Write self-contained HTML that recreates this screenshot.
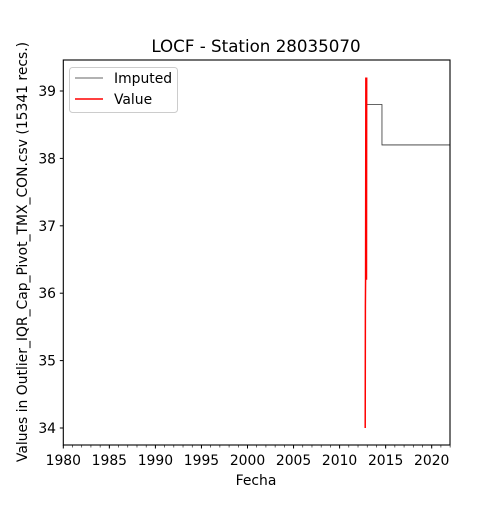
<!DOCTYPE html>
<html><head><meta charset="utf-8"><style>
body{margin:0;background:#fff;font-family:"Liberation Sans","DejaVu Sans",sans-serif}
svg text{font-family:"DejaVu Sans","Liberation Sans",sans-serif}
</style></head><body>
<svg id="c" width="500" height="500" xmlns="http://www.w3.org/2000/svg">
<rect width="500" height="500" fill="#fff"/>
<text x="256" y="52" font-size="16.7" text-anchor="middle">LOCF - Station 28035070</text>
<text x="256" y="485" font-size="13.9" text-anchor="middle">Fecha</text>
<text transform="translate(27,252) rotate(-90)" font-size="13.9" text-anchor="middle">Values in Outlier_IQR_Cap_Pivot_TMX_CON.csv (15341 recs.)</text>
<g id="xt"></g>
<g id="yt"></g>
<g id="series"></g>
<rect x="63.3" y="60" width="386.7" height="385" fill="none" stroke="#000" stroke-width="1.1"/>
<g>
<rect x="69.5" y="67.5" width="108" height="45" rx="3" fill="#fff" stroke="#ccc"/>
<line x1="75" y1="78" x2="103" y2="78" stroke="#333" stroke-width="0.8"/>
<text x="114" y="83" font-size="13.9">Imputed</text>
<line x1="75" y1="99" x2="103" y2="99" stroke="red" stroke-width="1.5"/>
<text x="114" y="104" font-size="13.9">Value</text>
</g>
</svg>
<script>
const xTicks=[1980,1985,1990,1995,2000,2005,2010,2015,2020];
const yTicks=[34,35,36,37,38,39];
const impDates=[2012.9,2014.6,2014.6,2022.0];
const impValues=[38.8,38.8,38.2,38.2];
const valDates=[2012.78,2012.8,2012.82,2012.85,2012.87,2012.9,2012.92,2012.94];
const valValues=[34.0,35.8,36.2,39.2,37.0,38.0,36.2,39.2];
const NS="http://www.w3.org/2000/svg";
const X=d=>63.3+(d-1980)*9.21;
const Y=v=>91-(v-39)*67.4;
function mk(t,a,p){const e=document.createElementNS(NS,t);for(const k in a)e.setAttribute(k,a[k]);p.appendChild(e);return e;}
const xt=document.getElementById('xt'),yt=document.getElementById('yt'),sg=document.getElementById('series');
for(let y=1980;y<=2022;y++){const l=mk('line',{x1:X(y),x2:X(y),y1:445,y2:447.5,stroke:'#000','stroke-width':0.6},xt);

}
xTicks.forEach(t=>{const l=mk('line',{x1:X(t),x2:X(t),y1:445,y2:448.5,stroke:'#000'},xt);


const s=mk('text',{x:X(t),y:465,'font-size':13.9,'text-anchor':'middle'},xt);s.textContent=t;

});
yTicks.forEach(t=>{const l=mk('line',{x1:59.8,x2:63.3,y1:Y(t),y2:Y(t),stroke:'#000'},yt);


const s=mk('text',{x:56,y:Y(t)+5,'font-size':13.9,'text-anchor':'end'},yt);s.textContent=t;

});
const ip=mk('polyline',{points:impDates.map((d,i)=>X(d)+','+Y(impValues[i])).join(' '),fill:'none',stroke:'#333','stroke-width':0.8},sg);


const vp=mk('polyline',{points:valDates.map((d,i)=>X(d)+','+Y(valValues[i])).join(' '),fill:'none',stroke:'red','stroke-width':1.5},sg);


</script>
</body></html>
